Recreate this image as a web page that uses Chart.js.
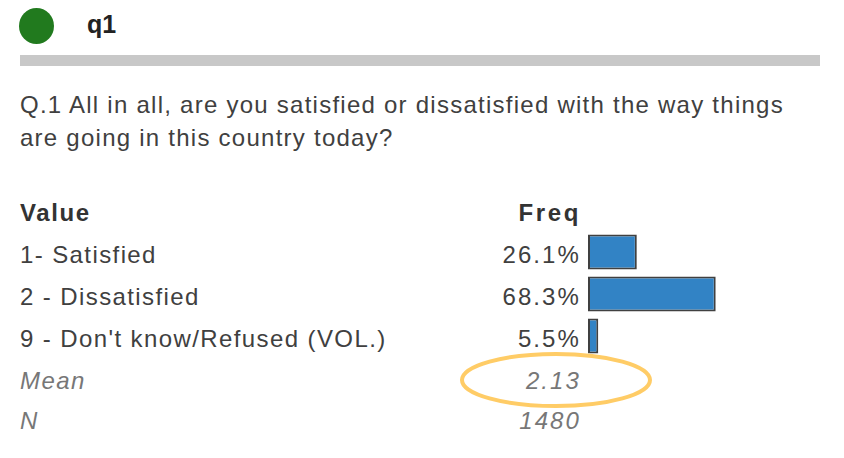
<!DOCTYPE html>
<html><head><meta charset="utf-8">
<script src="https://cdn.jsdelivr.net/npm/chart.js@4"></script>
<style>
html,body{margin:0;padding:0;background:#fff;width:844px;height:458px;overflow:hidden;font-family:"Liberation Sans",Arial,sans-serif;}
.abs{position:absolute;white-space:nowrap;}
#c{position:absolute;left:0;top:0;}
.row{font-size:24px;color:#404040;line-height:28px;letter-spacing:1.4px;}
.it{font-style:italic;color:#777;}
.r{text-align:right;width:300px;left:280px;letter-spacing:2.1px;}
</style></head>
<body>
<div class="abs" style="left:19px;top:8px;width:35px;height:36px;border-radius:50%;background:#217a1e;"></div>
<div class="abs" style="left:87px;top:10px;font-size:25px;font-weight:bold;color:#222;">q1</div>
<div class="abs" style="left:20px;top:55px;width:800px;height:11px;background:#c8c8c8;"></div>
<div class="abs row" id="question" style="left:20px;top:88px;line-height:33px;letter-spacing:1.25px;"></div>
<div id="table"></div>
<canvas id="c" width="844" height="458"></canvas>
<svg class="abs" style="left:0;top:0;" width="844" height="458"><ellipse cx="556" cy="380" rx="94" ry="26" fill="none" stroke="#ffcc66" stroke-width="4"/></svg>
<script>
const questionLines = ["Q.1 All in all, are you satisfied or dissatisfied with the way things", "are going in this country today?"];
const categories = ["1- Satisfied", "2 - Dissatisfied", "9 - Don't know/Refused (VOL.)"];
const freqPct = [26.1, 68.3, 5.5];
const statLabels = ["Mean", "N"];
const statValues = ["2.13", "1480"];

document.getElementById('question').innerHTML = questionLines.join('<br>');
const t = document.getElementById('table');
function add(html, cls, left, top, extra){
  const d = document.createElement('div');
  d.className = 'abs row ' + cls;
  d.style.left = left + 'px'; d.style.top = top + 'px';
  if (extra) d.style.cssText += extra;
  d.textContent = html; t.appendChild(d); return d;
}
const rowTop = 199, rowH = 42;
add('Value', '', 20, rowTop, 'font-weight:bold;color:#333;letter-spacing:1.6px;');
add('Freq', 'r', 281, rowTop, 'font-weight:bold;color:#333;letter-spacing:2.6px;');
categories.forEach((c, i) => {
  add(c, '', 20, rowTop + rowH * (i + 1));
  add(freqPct[i].toFixed(1) + '%', 'r', 281, rowTop + rowH * (i + 1));
});
statLabels.forEach((s, i) => {
  const y = rowTop + rowH * (categories.length + 1 + i) - (i ? 2 : 0);
  add(s, 'it', 20, y);
  add(statValues[i], 'it r', 281, y);
});

new Chart(document.getElementById('c'), {
  type: 'bar',
  data: { labels: categories, datasets: [{ data: freqPct, backgroundColor: '#3283c5', borderColor: '#404040', borderWidth: 2, borderSkipped: false, barPercentage: 0.835, categoryPercentage: 1 }] },
  options: {
    indexAxis: 'y', responsive: false, animation: false,
    layout: { padding: { left: 588, right: 69, top: 231, bottom: 101 } },
    plugins: { legend: { display: false }, tooltip: { enabled: false } },
    scales: {
      x: { display: false, min: 0, max: 100 },
      y: { display: false, offset: true }
    }
  }
});
</script>
</body></html>
